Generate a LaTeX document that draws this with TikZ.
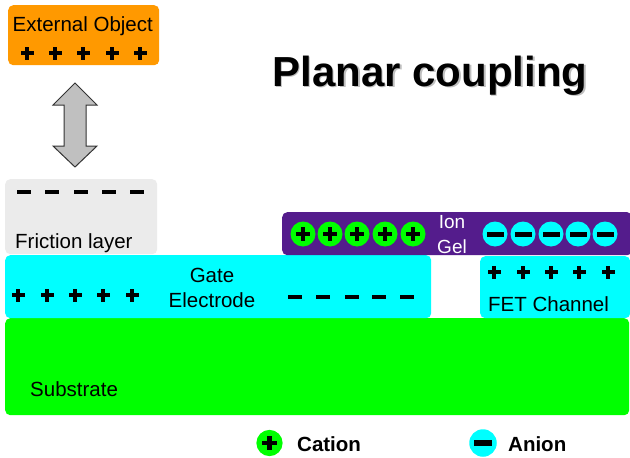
\documentclass[tikz,border=0pt]{standalone}
\usepackage{fontspec}
\setmainfont{Liberation Sans}
\usetikzlibrary{positioning}

\definecolor{extorange}{RGB}{255,153,0}
\definecolor{fricgray}{RGB}{235,235,235}
\definecolor{gelpurple}{RGB}{84,28,140}
\definecolor{elcyan}{RGB}{0,255,255}
\definecolor{subgreen}{RGB}{0,255,0}
\definecolor{arrowgray}{RGB}{192,192,192}

\tikzset{
% charges drawn as thick bars
pluscharge/.pic = {\fill (-6.5,-2) rectangle (6.5,2); \fill (-2,-6.5) rectangle (2,6.5);},
minuscharge/.pic = {\fill (-7,-2.2) rectangle (7,2.2);},
cationball/.pic = {\fill[subgreen] (0,0) circle (12.5); \fill (-7,-2.3) rectangle (7,2.3); \fill (-2.3,-7) rectangle (2.3,7);},
anionball/.pic = {\fill[elcyan] (0,0) circle (12.5); \fill (-8.5,-2.5) rectangle (8.5,2.5);}
}

\begin{document}
\begin{tikzpicture}[x=1pt, y=-1pt,
% common options for the layers:
layer/.style = {rounded corners=5pt, anchor=north west, inner sep=0},
% common options for the texts:
lbl/.style = {font=\fontsize{20.5}{22}\selectfont, inner sep=0, anchor=base}]
\useasboundingbox[fill=white] (0,0) rectangle (630,458);

% layers
\node[layer, fill=extorange, minimum width=151pt, minimum height=60pt] (ext) at (8,5) {};
\node[layer, fill=fricgray, minimum width=152pt, minimum height=75pt] (fric) at (5,179) {};
\node[layer, fill=subgreen, minimum width=624pt, minimum height=97pt] (sub) at (5,318) {};
\node[layer, fill=elcyan, minimum width=426pt, minimum height=63pt] (gate) at (5,255) {};
\node[layer, fill=elcyan, minimum width=150pt, minimum height=62pt] (fet) at (480,256) {};
\node[layer, fill=gelpurple, minimum width=350pt, minimum height=43pt] (gel) at (282,212) {};

% texts
\node[lbl, anchor=base west] (extlbl) at (12.5,31) {External Object};
\node[lbl, anchor=base west] (friclbl) at (15,248) {Friction layer};
\node[lbl] (gatelbl) at (212,282) {Gate};
\node[lbl] (electlbl) at (212,307) {Electrode};
\node[lbl, anchor=base west] (fetlbl) at (488,311) {FET Channel};
\node[lbl, anchor=base west] (sublbl) at (30,396) {Substrate};
\node[lbl, text=white, font=\fontsize{19}{20}\selectfont] (ionlbl) at (452,228) {Ion};
\node[lbl, text=white, font=\fontsize{19}{20}\selectfont] (gellbl) at (452,253) {Gel};
\node[lbl, anchor=base, text=black!25, font=\bfseries\fontsize{42}{44}\selectfont] (shadow) at (431.5,87.5) {Planar coupling};
\node[lbl, anchor=base, font=\bfseries\fontsize{42}{44}\selectfont] (title) at (430,86) {Planar coupling};

% coupling arrow
\draw[fill=arrowgray, draw=black!80, line width=1pt, line join=miter]
  (53,105) -- (75,83) -- (97,105) -- (86,105) -- (86,146) -- (97,146)
  -- (75,167) -- (53,146) -- (64,146) -- (64,105) -- cycle;

% charges
\foreach \x in {27,55,83,112,140} \pic at (\x,53) {pluscharge};
\foreach \x in {24,52,81,109,137} \pic at (\x,192) {minuscharge};
\foreach \x in {18,47,75,103,132} \pic at (\x,295) {pluscharge};
\foreach \x in {295,323,352,379,407} \pic at (\x,297) {minuscharge};
\foreach \x in {494,523,551,579,608} \pic at (\x,272) {pluscharge};
\foreach \x in {303,330,357,385,413} \pic at (\x,234) {cationball};
\foreach \x in {495,523,551,578,605} \pic at (\x,234) {anionball};

% legend
\pic[scale=1.05] at (269.5,443) {cationball};
\node[lbl, anchor=base west, font=\bfseries\fontsize{20.5}{22}\selectfont] (cation) at (297,451) {Cation};
\pic[scale=1.1] at (483,443) {anionball};
\node[lbl, anchor=base west, font=\bfseries\fontsize{20.5}{22}\selectfont] (anion) at (508,451) {Anion};
\end{tikzpicture}
\end{document}
